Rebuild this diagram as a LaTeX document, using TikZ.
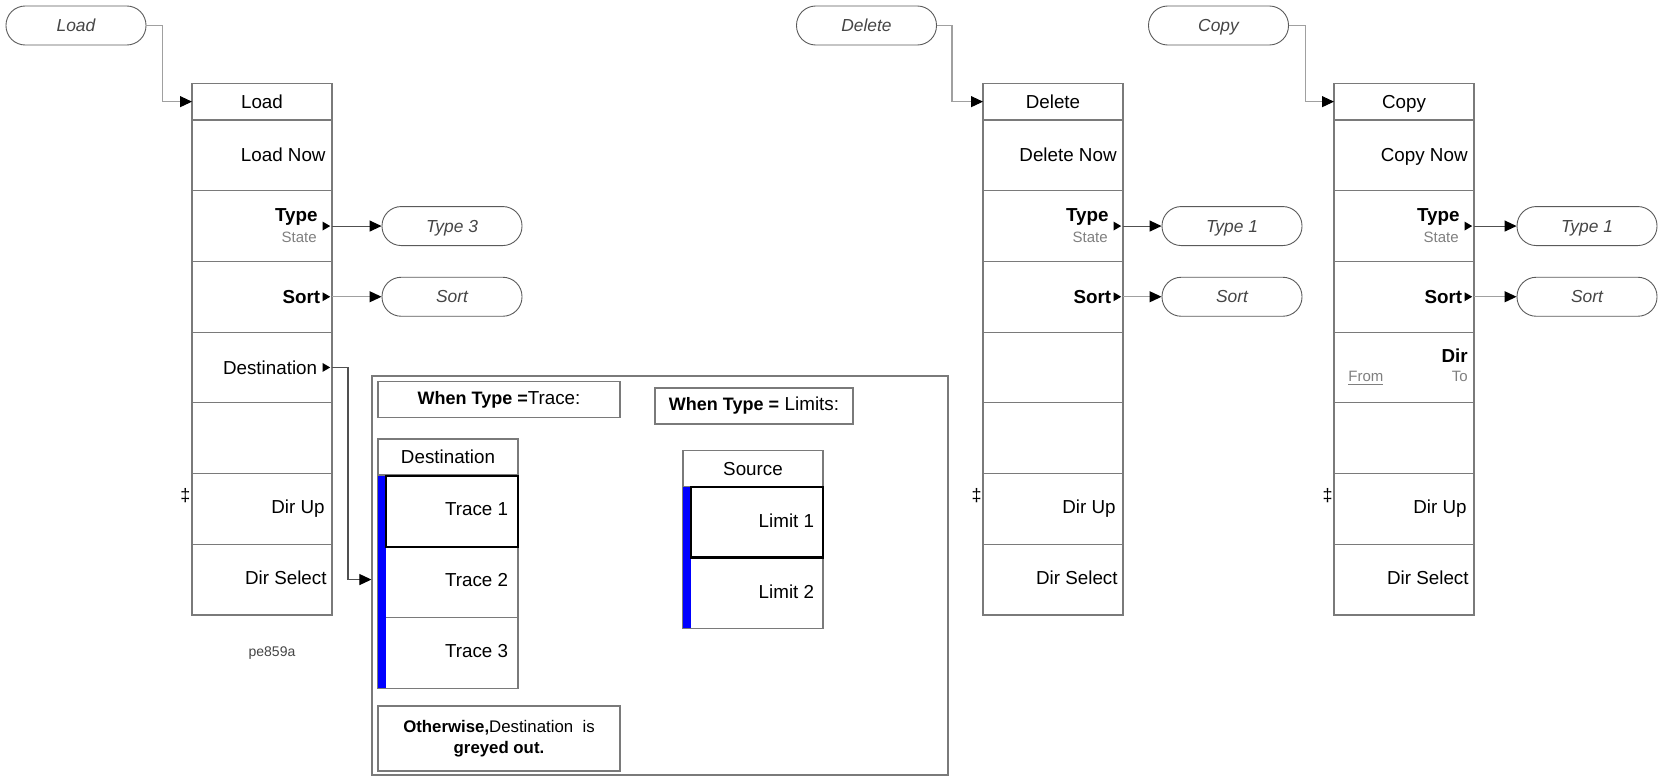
\documentclass[tikz,border=0pt]{standalone}
\usepackage{fontspec}
\setmainfont{Liberation Sans}
\usetikzlibrary{arrows.meta,calc}
\definecolor{boxgray}{HTML}{7A7A7A}
\definecolor{conngray}{HTML}{A0A0A0}
\definecolor{conndark}{HTML}{505050}
\definecolor{ovalgray}{HTML}{5A5A5A}
\definecolor{ovaltext}{HTML}{454545}
\definecolor{txtgray}{HTML}{7F7F7F}
\definecolor{keyblue}{HTML}{0000FF}
\tikzset{
  cell/.style={draw=boxgray, line width=0.6pt, minimum width=70pt, minimum height=35.35pt, inner sep=0pt, outer sep=0pt},
  titlecell/.style={cell, minimum height=18.35pt},
  subtitle/.style={cell, minimum height=18pt},
  keytxt/.style={font=\fontsize{9.4}{11}\selectfont, inner sep=0pt, anchor=base east},
  keybold/.style={keytxt, font=\fontsize{9.4}{11}\selectfont\bfseries},
  subtxt/.style={font=\fontsize{7.5}{9}\selectfont, text=txtgray, inner sep=0pt, anchor=base east},
  oval/.style={draw=ovalgray, line width=0.45pt, rounded corners=9.6pt, minimum width=70pt, minimum height=19.5pt, inner sep=0pt, text height=6.2pt, text depth=0pt, font=\fontsize{8.7}{10}\selectfont\itshape, text=ovaltext},
  conn/.style={draw=conngray, line width=0.55pt},
  connd/.style={draw=conndark, line width=0.55pt},
  tip/.style={-{Triangle[length=6pt,width=5.5pt,color=black,fill=black]}},
  infobox/.style={draw=boxgray, line width=0.6pt, inner sep=0pt, align=center},
  thickkey/.style={draw=black, line width=1.1pt},
  dagger/.style={font=\fontsize{9}{10}\selectfont, inner sep=0pt}
}
\newcommand{\makemenu}[2]{%
  \node[titlecell] (#1T) at (#2,101.65) {};
  \foreach \i in {1,...,7} {\node[cell] (#1\i) at (#2,{155.35+70.7*(\i-1)}) {};}
}
\newcommand{\keytri}[1]{\fill[black] ([shift={(-9.5,-4.5)}]#1.east) -- ([shift={(-1.8,0)}]#1.east) -- ([shift={(-9.5,4.5)}]#1.east) -- cycle;}
\begin{document}
\begin{tikzpicture}[x=0.5pt,y=-0.5pt]
\useasboundingbox (0,0) rectangle (1658,776);

% ---------- menus ----------
\makemenu{L}{262}
\makemenu{D}{1053}
\makemenu{C}{1404}

% ---------- top ovals and connectors ----------
\node[oval] (Lo) at (76,25.5) {Load};
\node[oval] (Do) at (866.5,25.5) {Delete};
\node[oval] (Co) at (1218.5,25.5) {Copy};
\draw[conn,tip] (Lo.east) -- ++(16,0) |- (LT.west);
\draw[conn,tip] (Do.east) -- ++(15,0) |- (DT.west);
\draw[conn,tip] (Co.east) -- ++(16.5,0) |- (CT.west);

% ---------- Load menu texts ----------
\node[keytxt,anchor=base] (LTt) at ([shift={(0,6.5)}]LT.center) {Load};
\node[keytxt] (L1t) at ([shift={(-6,6.5)}]L1.east) {Load Now};
\node[keybold] (L2t) at ([shift={(-14,-4.3)}]L2.east) {Type};
\node[subtxt] (L2s) at ([shift={(-15,16)}]L2.east) {State};
\keytri{L2}
\node[keybold] (L3t) at ([shift={(-11.5,6.7)}]L3.east) {Sort};
\keytri{L3}
\node[keytxt] (L4t) at ([shift={(-14.5,6.7)}]L4.east) {Destination};
\keytri{L4}
\node[keytxt] (L6t) at ([shift={(-7,4.5)}]L6.east) {Dir Up};
\node[keytxt] (L7t) at ([shift={(-5,4.7)}]L7.east) {Dir Select};
\node[dagger] (Ldg) at ([shift={(-6.5,-13)}]L6.west) {‡};
\node[oval] (L2o) at ([xshift=60pt]L2.east) {Type 3};
\node[oval] (L3o) at ([xshift=60pt]L3.east) {Sort};
\draw[connd,tip] (L2.east) -- (L2o.west);
\draw[conn,tip] (L3.east) -- (L3o.west);

% ---------- Delete menu texts ----------
\node[keytxt,anchor=base] (DTt) at ([shift={(0,6.5)}]DT.center) {Delete};
\node[keytxt] (D1t) at ([shift={(-6,6.5)}]D1.east) {Delete Now};
\node[keybold] (D2t) at ([shift={(-14,-4.3)}]D2.east) {Type};
\node[subtxt] (D2s) at ([shift={(-15,16)}]D2.east) {State};
\keytri{D2}
\node[keybold] (D3t) at ([shift={(-11.5,6.7)}]D3.east) {Sort};
\keytri{D3}
\node[keytxt] (D6t) at ([shift={(-7,4.5)}]D6.east) {Dir Up};
\node[keytxt] (D7t) at ([shift={(-5,4.7)}]D7.east) {Dir Select};
\node[dagger] (Ddg) at ([shift={(-6.5,-13)}]D6.west) {‡};
\node[oval] (D2o) at ([xshift=54.5pt]D2.east) {Type 1};
\node[oval] (D3o) at ([xshift=54.5pt]D3.east) {Sort};
\draw[connd,tip] (D2.east) -- (D2o.west);
\draw[conn,tip] (D3.east) -- (D3o.west);

% ---------- Copy menu texts ----------
\node[keytxt,anchor=base] (CTt) at ([shift={(0,6.5)}]CT.center) {Copy};
\node[keytxt] (C1t) at ([shift={(-6,6.5)}]C1.east) {Copy Now};
\node[keybold] (C2t) at ([shift={(-14,-4.3)}]C2.east) {Type};
\node[subtxt] (C2s) at ([shift={(-15,16)}]C2.east) {State};
\keytri{C2}
\node[keybold] (C3t) at ([shift={(-11.5,6.7)}]C3.east) {Sort};
\keytri{C3}
\node[keybold] (C4t) at ([shift={(-6,-5)}]C4.east) {Dir};
\node[subtxt] (C4to) at ([shift={(-6,14)}]C4.east) {To};
\node[subtxt,anchor=base west] (C4fr) at ([shift={(14,14)}]C4.west) {\underline{From}};
\node[keytxt] (C6t) at ([shift={(-7,4.5)}]C6.east) {Dir Up};
\node[keytxt] (C7t) at ([shift={(-5,4.7)}]C7.east) {Dir Select};
\node[dagger] (Cdg) at ([shift={(-6.5,-13)}]C6.west) {‡};
\node[oval] (C2o) at ([xshift=56.5pt]C2.east) {Type 1};
\node[oval] (C3o) at ([xshift=56.5pt]C3.east) {Sort};
\draw[connd,tip] (C2.east) -- (C2o.west);
\draw[conn,tip] (C3.east) -- (C3o.west);

% ---------- Destination frame ----------
\node[draw=boxgray, line width=0.6pt, minimum width=288pt, minimum height=199.5pt, inner sep=0pt] (frame) at (660,575.5) {};
\draw[connd,tip] (L4.east) -- ++(16,0) |- (frame.west |- L7);

\node[infobox, minimum width=121pt, minimum height=18pt] (WT) at (499,399.7)
  {{\fontsize{9}{11}\selectfont\bfseries When Type =}{\fontsize{9.4}{11}\selectfont Trace:}};
\node[infobox, minimum width=99pt, minimum height=18pt] (WL) at (754,406)
  {{\fontsize{9}{11}\selectfont\bfseries When Type =} {\fontsize{9.4}{11}\selectfont Limits:}};
\node[infobox, minimum width=121pt, minimum height=32.5pt, font=\fontsize{8.4}{10.8}\selectfont] (OT) at (499,738.5)
  {{\bfseries Otherwise,}Destination\ \ is\\{\fontsize{8.4}{10.8}\selectfont\bfseries greyed out.}};

% Destination submenu
\node[subtitle] (DsT) at (448,457) {};
\node[cell] (Ds1) at (448,511.35) {};
\node[cell] (Ds2) at (448,582.05) {};
\node[cell] (Ds3) at (448,652.75) {};
\fill[keyblue] (Ds1.north west) rectangle ([xshift=4pt]Ds3.south west);
\draw[thickkey] ([xshift=4pt]Ds1.north west) rectangle (Ds1.south east);
\node[keytxt,anchor=base] (DsTt) at ([shift={(0,6.5)}]DsT.center) {Destination};
\node[keytxt] (Ds1t) at ([shift={(-9.5,4.6)}]Ds1.east) {Trace 1};
\node[keytxt] (Ds2t) at ([shift={(-9.5,4.6)}]Ds2.east) {Trace 2};
\node[keytxt] (Ds3t) at ([shift={(-9.5,4.6)}]Ds3.east) {Trace 3};

% Source submenu
\node[subtitle] (SsT) at (753,468.5) {};
\node[cell] (Ss1) at (753,522.2) {};
\node[cell] (Ss2) at (753,592.9) {};
\fill[keyblue] (Ss1.north west) rectangle ([xshift=4pt]Ss2.south west);
\draw[thickkey] ([xshift=4pt]Ss1.north west) rectangle (Ss1.south east);
\node[keytxt,anchor=base] (SsTt) at ([shift={(0,6.5)}]SsT.center) {Source};
\node[keytxt] (Ss1t) at ([shift={(-8.5,5.5)}]Ss1.east) {Limit 1};
\node[keytxt] (Ss2t) at ([shift={(-8.5,5.5)}]Ss2.east) {Limit 2};

% figure id
\node[font=\fontsize{7}{8}\selectfont, text=ovaltext, inner sep=0pt] (fid) at (272,652.7) {pe859a};
\end{tikzpicture}
\end{document}
